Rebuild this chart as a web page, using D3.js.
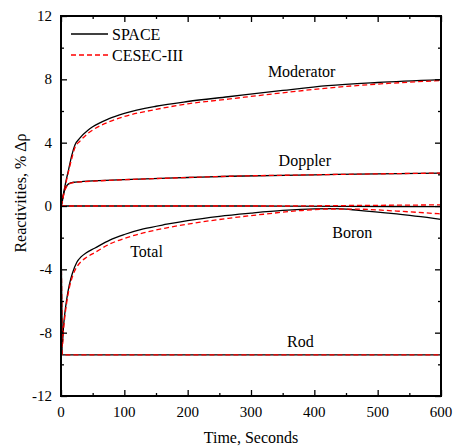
<!DOCTYPE html>
<meta charset="utf-8">
<style>
    body { margin: 0; background: #fff; }
    text { font-family: "Liberation Serif", "Times New Roman", serif; fill: #000; }
    .line { fill: none; stroke-width: 1.3px; }
    .space { stroke: #000; }
    .cesec { stroke: #ff0000; stroke-dasharray: 5,3; }
</style>
<svg id="svg" width="457" height="448"></svg>
<script src="https://d3js.org/d3.v7.min.js"></script>
<script>

    // series: [time (s), reactivity (% dk)]
    var moderatorSpace = [[0,0],[2,0.4],[5,1.0],[8,1.6],[12,2.3],[17,3.2],[22,3.85],[30,4.3],[43,4.8],[50,5.0],[75,5.5],[100,5.85],[150,6.3],[200,6.6],[264,6.9],[350,7.3],[421,7.6],[500,7.8],[600,7.98]];
    var moderatorCesec = [[0,0],[2,0.35],[5,0.95],[8,1.5],[12,2.2],[17,3.0],[22,3.7],[30,4.1],[43,4.6],[50,4.8],[75,5.3],[100,5.65],[150,6.1],[200,6.45],[264,6.75],[350,7.15],[421,7.45],[500,7.7],[600,7.92]];
    var dopplerSpace = [[0,0],[1,0.1],[3,0.5],[5,0.9],[8,1.2],[12,1.4],[20,1.5],[30,1.53],[60,1.6],[100,1.67],[200,1.8],[267,1.88],[400,1.97],[500,2.03],[600,2.08]];
    var dopplerCesec = [[0,0],[1,0.08],[3,0.45],[5,0.85],[8,1.15],[12,1.37],[20,1.48],[30,1.52],[60,1.59],[100,1.66],[200,1.8],[267,1.88],[400,1.97],[500,2.03],[600,2.08]];
    var boronSpace = [[0,0],[300,0],[450,-0.02],[600,-0.04]];
    var boronCesec = [[0,0],[350,0],[450,0.03],[600,0.07]];
    var totalSpace = [[0,0],[2,-8.8],[4,-7.6],[6,-6.8],[9,-5.9],[13,-5.0],[18,-4.25],[25,-3.55],[32,-3.2],[40,-2.95],[53,-2.67],[77,-2.15],[100,-1.8],[130,-1.45],[167,-1.15],[200,-0.92],[250,-0.65],[300,-0.45],[350,-0.28],[400,-0.18],[430,-0.17],[470,-0.27],[530,-0.5],[600,-0.84]];
    var totalCesec = [[0,0],[2,-8.9],[4,-7.8],[6,-7.0],[9,-6.1],[13,-5.2],[19,-4.35],[25,-3.85],[32,-3.5],[40,-3.25],[53,-2.95],[77,-2.4],[100,-2.05],[130,-1.7],[167,-1.38],[220,-1.02],[264,-0.78],[320,-0.52],[375,-0.3],[425,-0.19],[470,-0.2],[530,-0.32],[600,-0.5]];
    var rodSpace = [[0,0],[2,-9.4],[600,-9.4]];
    var rodCesec = [[0,0],[2,-9.4],[600,-9.4]];

    var xTicks = [0, 100, 200, 300, 400, 500, 600];
    var yTicks = [-12, -8, -4, 0, 4, 8, 12];
    var legendNames = ["SPACE", "CESEC-III"];
    var curveLabels = [
        {name: "Moderator", t: 380, v: 8.15},
        {name: "Doppler", t: 385, v: 2.5},
        {name: "Boron", t: 460, v: -2.0},
        {name: "Total", t: 135, v: -3.2},
        {name: "Rod", t: 378, v: -8.9}
    ];

    var svg = d3.select("svg");
    var margin = {left: 61, top: 16, right: 16, bottom: 52};
    var width = 457 - margin.left - margin.right,
        height = 448 - margin.top - margin.bottom;

    var x = d3.scaleLinear().domain([0, 600]).range([0, width]);
    var y = d3.scaleLinear().domain([-12, 12]).range([height, 0]);

    var g = svg.append("g").attr("transform", "translate(" + margin.left + "," + margin.top + ")");

    var line = d3.line()
        .x(function (d) { return x(d[0]); })
        .y(function (d) { return y(d[1]); })
        .curve(d3.curveMonotoneX);

    var pairs = [
        [moderatorSpace, moderatorCesec],
        [dopplerSpace, dopplerCesec],
        [boronSpace, boronCesec],
        [totalSpace, totalCesec],
        [rodSpace, rodCesec]
    ];
    pairs.forEach(function (p) {
        g.append("path").datum(p[0]).attr("class", "line space").attr("d", line);
        g.append("path").datum(p[1]).attr("class", "line cesec").attr("d", line);
    });

    // axes: ticks point inward on all four sides, minor ticks every half step
    var xMinor = d3.range(0, 601, 50);
    var yMinor = d3.range(-12, 13, 2);

    function tickAxis(axisFn, scale, minor) {
        return axisFn(scale).tickValues(minor).tickSizeOuter(0)
            .tickSizeInner(-3).tickFormat(function () { return ""; });
    }

    var axBottom = g.append("g").attr("transform", "translate(0," + height + ")");
    axBottom.call(tickAxis(d3.axisBottom, x, xMinor));
    axBottom.selectAll(".tick").filter(function (d) { return xTicks.indexOf(d) >= 0; })
        .select("line").attr("y2", -6);
    var axTop = g.append("g");
    axTop.call(tickAxis(d3.axisTop, x, xMinor));
    axTop.selectAll(".tick").filter(function (d) { return xTicks.indexOf(d) >= 0; })
        .select("line").attr("y2", 6);
    var axLeft = g.append("g");
    axLeft.call(tickAxis(d3.axisLeft, y, yMinor));
    axLeft.selectAll(".tick").filter(function (d) { return yTicks.indexOf(d) >= 0; })
        .select("line").attr("x2", 6);
    var axRight = g.append("g").attr("transform", "translate(" + width + ",0)");
    axRight.call(tickAxis(d3.axisRight, y, yMinor));
    axRight.selectAll(".tick").filter(function (d) { return yTicks.indexOf(d) >= 0; })
        .select("line").attr("x2", -6);

    g.selectAll(".domain").remove();
    g.selectAll(".tick line").attr("stroke", "#000").attr("stroke-width", 1.3);

    g.append("rect").attr("width", width).attr("height", height)
        .attr("fill", "none").attr("stroke", "#000").attr("stroke-width", 2);

    // tick labels
    g.selectAll(".xlab").data(xTicks).enter().append("text")
        .attr("x", function (d) { return x(d); })
        .attr("y", height + 21)
        .attr("text-anchor", "middle")
        .style("font-size", "15px")
        .text(function (d) { return d; });
    g.selectAll(".ylab").data(yTicks).enter().append("text")
        .attr("x", -9)
        .attr("y", function (d) { return y(d) + 5; })
        .attr("text-anchor", "end")
        .style("font-size", "15px")
        .text(function (d) { return d; });

    // axis titles
    svg.append("text")
        .attr("x", margin.left + width / 2).attr("y", 443)
        .attr("text-anchor", "middle").style("font-size", "16px")
        .text("Time, Seconds");
    svg.append("text")
        .attr("transform", "translate(26,193) rotate(-90)")
        .attr("text-anchor", "middle").style("font-size", "16px")
        .text("Reactivities, % \u0394\u03c1");

    // curve names
    g.selectAll(".clab").data(curveLabels).enter().append("text")
        .attr("x", function (d) { return x(d.t); })
        .attr("y", function (d) { return y(d.v); })
        .attr("text-anchor", "middle").style("font-size", "16px")
        .text(function (d) { return d.name; });

    // legend
    var legend = svg.append("g").attr("transform", "translate(71,34)");
    legendNames.forEach(function (n, i) {
        legend.append("line")
            .attr("x1", 0).attr("x2", 37)
            .attr("y1", i * 21).attr("y2", i * 21)
            .attr("class", "line " + (i === 0 ? "space" : "cesec"));
        legend.append("text")
            .attr("x", 41).attr("y", i * 21 + 5.5)
            .style("font-size", "16px")
            .text(n);
    });

</script>
